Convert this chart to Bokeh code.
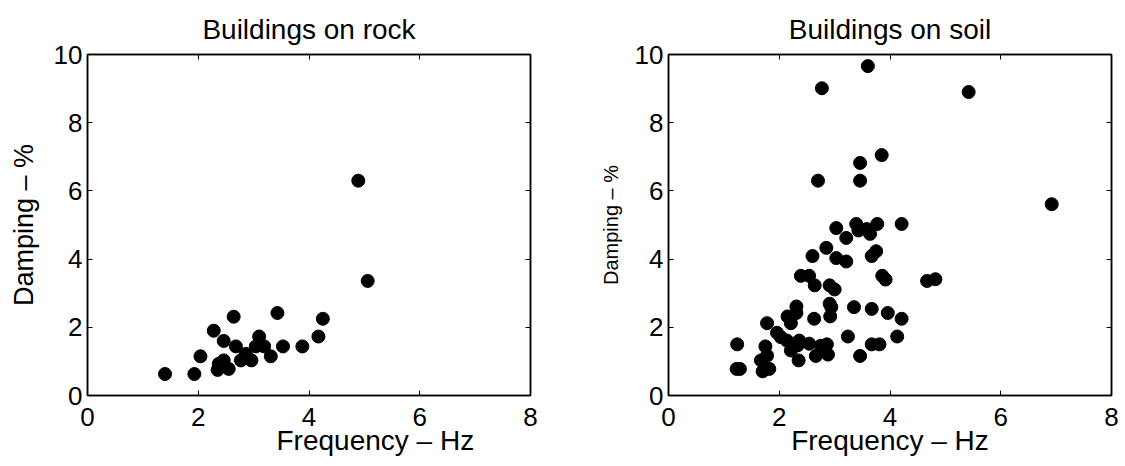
from bokeh.plotting import figure
from bokeh.models import Range1d, FixedTicker, LinearAxis, Title
from bokeh.layouts import row
from bokeh.embed import file_html
from bokeh.resources import INLINE

FONT = "Liberation Sans"

# ---- data ----
x_ticks = [0, 2, 4, 6, 8]
y_ticks = [0, 2, 4, 6, 8, 10]

rock_freq = [1.40, 1.93, 2.04, 2.28, 2.46, 2.64, 2.68, 2.35, 2.37, 2.46,
             2.55, 2.77, 2.86, 2.96, 3.10, 3.04, 3.12, 3.19, 3.31, 3.43,
             3.53, 3.88, 4.17, 4.25, 4.89, 5.06]
rock_damp = [0.63, 0.63, 1.15, 1.90, 1.60, 2.31, 1.44, 0.75, 0.93, 1.03,
             0.78, 1.03, 1.22, 1.03, 1.73, 1.44, 1.50, 1.44, 1.15, 2.42,
             1.44, 1.44, 1.73, 2.25, 6.30, 3.36]

soil_freq = [3.60, 2.77, 5.42, 3.85, 3.46, 3.46, 2.70, 6.92, 3.39, 3.77,
             4.21, 3.03, 3.43, 3.58, 3.64, 3.21, 2.85, 2.60, 3.03, 3.21,
             3.67, 3.75, 2.39, 2.54, 2.64, 2.91, 3.00, 3.86, 3.92, 4.67,
             4.82, 2.31, 2.15, 2.31, 2.21, 2.63, 2.91, 2.94, 2.92, 3.35,
             3.67, 3.96, 4.21, 1.78, 1.96, 2.03, 2.14, 2.36, 2.21, 2.33,
             2.54, 2.35, 2.66, 2.75, 2.86, 2.88, 3.24, 3.46, 3.67, 3.81,
             4.13, 1.24, 1.23, 1.29, 1.75, 1.78, 1.67, 1.70, 1.82]
soil_damp = [9.66, 9.01, 8.90, 7.05, 6.82, 6.30, 6.30, 5.61, 5.03, 5.03,
             5.03, 4.91, 4.84, 4.88, 4.74, 4.62, 4.33, 4.09, 4.03, 3.93,
             4.09, 4.23, 3.51, 3.51, 3.23, 3.23, 3.11, 3.51, 3.40, 3.36,
             3.41, 2.61, 2.32, 2.42, 2.12, 2.25, 2.69, 2.59, 2.32, 2.59,
             2.54, 2.42, 2.25, 2.12, 1.84, 1.71, 1.61, 1.61, 1.32, 1.47,
             1.52, 1.03, 1.16, 1.46, 1.50, 1.20, 1.73, 1.16, 1.50, 1.50,
             1.73, 1.50, 0.78, 0.78, 1.44, 1.17, 1.03, 0.71, 0.78]

titles = ["Buildings on rock", "Buildings on soil"]
x_label = "Frequency \u2013 Hz"
y_label = "Damping \u2013 %"


def style_axis(ax, ticks, labels=True, size="26px"):
    ax.ticker = FixedTicker(ticks=ticks)
    ax.minor_tick_line_color = None
    ax.major_tick_in = 5
    ax.major_tick_out = 0
    ax.axis_line_color = "black"
    ax.axis_line_width = 1.5
    ax.major_tick_line_color = "black"
    ax.major_tick_line_width = 1
    if labels:
        ax.major_label_text_font = FONT
        ax.major_label_text_font_size = size
        ax.major_label_text_color = "black"
    else:
        ax.major_label_text_font_size = "0px"
        ax.major_label_standoff = 0
        ax.major_label_text_color = None


def make(title, xs, ys, left_border, right_border, ylab_size, ylab_standoff,
         xlab_align, xlab_offset):
    p = figure(frame_width=443, frame_height=341,
               x_range=Range1d(0, 8), y_range=Range1d(0, 10),
               output_backend="svg", toolbar_location=None,
               min_border_left=left_border, min_border_right=right_border,
               min_border_top=54, min_border_bottom=66,
               title=title)
    p.grid.visible = False
    p.outline_line_color = "black"
    p.outline_line_width = 1.5
    p.background_fill_color = "white"
    p.border_fill_color = "white"
    p.title.text_font = FONT
    p.title.text_font_size = "28px"
    p.title.text_font_style = "normal"
    p.title.text_color = "black"
    p.title.align = "center"
    p.title.standoff = 19

    xa = p.xaxis[0]
    style_axis(xa, x_ticks)
    xa.major_label_standoff = 12
    ya = p.yaxis[0]
    style_axis(ya, y_ticks)
    ya.major_label_standoff = 5
    ya.axis_label = y_label
    ya.axis_label_text_font = FONT
    ya.axis_label_text_font_size = ylab_size
    ya.axis_label_text_font_style = "normal"
    ya.axis_label_text_color = "black"
    ya.axis_label_standoff = ylab_standoff

    xt = Title(text=x_label, align=xlab_align, offset=xlab_offset,
               vertical_align="top", standoff=-8,
               text_font=FONT, text_font_size="28px",
               text_font_style="normal", text_color="black")
    p.add_layout(xt, "below")

    top = LinearAxis()
    style_axis(top, x_ticks, labels=False)
    p.add_layout(top, "above")
    right = LinearAxis()
    style_axis(right, y_ticks, labels=False)
    p.add_layout(right, "right")

    p.scatter(xs, ys, size=13, color="black", marker="circle")
    return p


p1 = make(titles[0], rock_freq, rock_damp, 87, 58, "27px", 12, "left", 189)
p2 = make(titles[1], soil_freq, soil_damp, 80, 12, "20px", 10, "center", 0)

layout = row(p1, p2)
open("out.html", "w").write(file_html(layout, INLINE))
